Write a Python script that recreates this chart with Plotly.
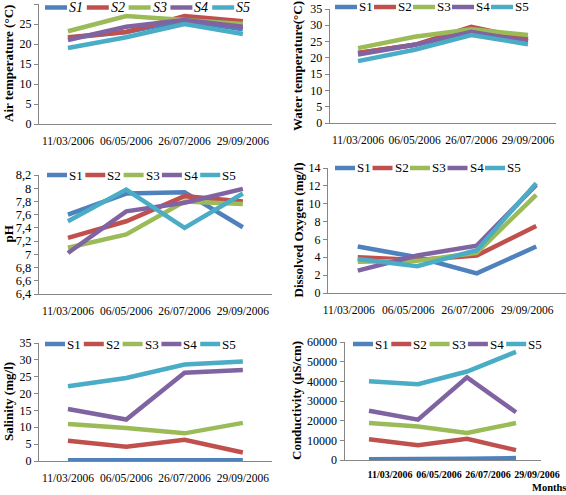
import plotly.graph_objects as go

W, H = 566, 495

dates = ["11/03/2006", "06/05/2006", "26/07/2006", "29/09/2006"]
stations = ["S1", "S2", "S3", "S4", "S5"]
colors = ["#4F81BD", "#C0504D", "#9BBB59", "#8064A2", "#4BACC6"]

# values per station (S1..S5), each over the four sampling dates
air_temperature = [
    [21.5, 23.0, 25.8, 23.7],
    [21.7, 23.0, 27.0, 25.7],
    [23.2, 27.0, 26.0, 25.0],
    [21.0, 24.3, 26.0, 24.3],
    [19.0, 21.7, 25.0, 22.5],
]
water_temperature = [
    [21.5, 24.0, 28.0, 25.0],
    [21.5, 24.0, 29.5, 25.8],
    [23.0, 26.5, 28.8, 27.0],
    [21.0, 24.0, 28.0, 25.0],
    [19.0, 22.5, 27.0, 24.2],
]
ph = [
    [7.60, 7.92, 7.94, 7.41],
    [7.25, 7.50, 7.88, 7.80],
    [7.10, 7.30, 7.80, 7.76],
    [7.02, 7.65, 7.78, 7.99],
    [7.50, 7.98, 7.40, 7.92],
]
dissolved_oxygen = [
    [5.2, 4.0, 2.2, 5.2],
    [4.0, 3.7, 4.2, 7.5],
    [3.5, 3.6, 4.5, 11.0],
    [2.5, 4.2, 5.3, 12.1],
    [3.8, 3.0, 4.8, 12.3],
]
salinity = [
    [0.2, 0.1, 0.2, 0.2],
    [6.0, 4.2, 6.3, 2.5],
    [11.0, 9.8, 8.2, 11.3],
    [15.4, 12.3, 26.2, 27.0],
    [22.2, 24.6, 28.6, 29.5],
]
conductivity = [
    [400, 400, 600, 1000],
    [10500, 7500, 10800, 5000],
    [18800, 17000, 13700, 18800],
    [25000, 20500, 42000, 24300],
    [40000, 38500, 45000, 55000],
]

FONT = "Liberation Serif"
AXIS_GREY = "#868686"

def fx(px):
    return px / W

def fy(py):
    return 1 - py / H

panels = [
    dict(data=air_temperature, title="Air temperature (°C)", yr=[0, 30], dt=5, fmt="",
         xd=(38.8, 272), yd=(4, 124), title_x=8, leg=(45, 41.8, 22, 7.5, 14, True),
         xbold=False, shift=0, yfs=12),
    dict(data=water_temperature, title="Water temperature(°C)", yr=[0, 35], dt=5, fmt="",
         xd=(329.7, 556.3), yd=(9, 123), title_x=298, leg=(335, 39, 22, 7, 13, False),
         xbold=False, shift=0, yfs=12),
    dict(data=ph, title="pH", yr=[6.4, 8.2], dt=0.2, fmt="",
         xd=(38.8, 272), yd=(175, 294), title_x=8, leg=(47, 38.3, 20, 175, 13, False),
         xbold=False, shift=0, yfs=12.5),
    dict(data=dissolved_oxygen, title="Dissolved Oxygen (mg/l)", yr=[0, 14], dt=2, fmt="",
         xd=(328, 566), yd=(168, 293), title_x=298, leg=(335, 37.5, 20, 168, 13, False),
         xbold=False, shift=-9, yfs=12),
    dict(data=salinity, title="Salinity (mg/l)", yr=[0, 35], dt=5, fmt="",
         xd=(38.8, 272), yd=(343, 461), title_x=8, leg=(45, 38.8, 20, 344, 13, False),
         xbold=False, shift=0, yfs=12),
    dict(data=conductivity, title="Conductivity (µS/cm)", yr=[0, 60000], dt=10000, fmt="d",
         xd=(344.5, 540.5), yd=(342, 460), title_x=296, leg=(353, 38.3, 20, 344, 13, False),
         xbold=True, shift=21, yfs=12),
]

fig = go.Figure()
shapes = []
annotations = []

for i, p in enumerate(panels, start=1):
    xa = "x" if i == 1 else f"x{i}"
    ya = "y" if i == 1 else f"y{i}"
    for s, name in enumerate(stations):
        fig.add_trace(go.Scatter(
            x=dates, y=p["data"][s], mode="lines", name=name,
            line=dict(color=colors[s], width=4.5),
            xaxis=xa, yaxis=ya, showlegend=False,
        ))
    xkey = "xaxis" if i == 1 else f"xaxis{i}"
    ykey = "yaxis" if i == 1 else f"yaxis{i}"
    x0, x1 = p["xd"]
    ytop, ybot = p["yd"]
    fig.layout[xkey] = dict(
        domain=[fx(x0), min(fx(x1), 1.0)], anchor=ya, type="category",
        range=[-0.5, 3.5], showline=True, linecolor=AXIS_GREY, linewidth=1,
        showgrid=False, zeroline=False, ticks="", ticklabelshift=p["shift"],
        tickangle=0, automargin=False, ticklabelstandoff=5 if p["xbold"] else 6,
        tickfont=dict(family=FONT, size=10 if p["xbold"] else 11.5, color="black",
                      weight="bold" if p["xbold"] else "normal"),
    )
    fig.layout[ykey] = dict(
        domain=[fy(ybot), fy(ytop)], anchor=xa, range=p["yr"], dtick=p["dt"],
        tick0=p["yr"][0], tickformat=p["fmt"], automargin=False,
        showline=True, linecolor=AXIS_GREY, linewidth=1, showgrid=False,
        zeroline=False, ticks="outside", ticklen=4, tickcolor=AXIS_GREY,
        tickfont=dict(family=FONT, size=p["yfs"], color="black"),
    )
    # axis title
    annotations.append(dict(
        text=p["title"], x=fx(p["title_x"]), y=(fy(ybot) + fy(ytop)) / 2,
        xref="paper", yref="paper", textangle=-90, showarrow=False,
        xanchor="center", yanchor="middle",
        font=dict(family=FONT, size=13, color="black", weight="bold"),
    ))
    # legend keys
    lx, step, llen, lyc, lfs, ital = p["leg"]
    for s, name in enumerate(stations):
        sx = lx + s * step
        shapes.append(dict(
            type="line", xref="paper", yref="paper",
            x0=fx(sx), x1=fx(sx + llen), y0=fy(lyc), y1=fy(lyc),
            line=dict(color=colors[s], width=4.5),
        ))
        annotations.append(dict(
            text=name, x=fx(sx + llen), y=fy(lyc), xref="paper", yref="paper",
            showarrow=False, xanchor="left", yanchor="middle",
            font=dict(family=FONT, size=lfs, color="black",
                      style="italic" if ital else "normal"),
        ))

annotations.append(dict(
    text="Months", x=fx(549), y=fy(487.5), xref="paper", yref="paper",
    showarrow=False, xanchor="center", yanchor="middle",
    font=dict(family=FONT, size=10.5, color="black", weight="bold"),
))

fig.update_layout(
    width=W, height=H, margin=dict(l=0, r=0, t=0, b=0, autoexpand=False),
    paper_bgcolor="white", plot_bgcolor="white",
    separators=",.", showlegend=False,
    shapes=shapes, annotations=annotations,
    font=dict(family=FONT, color="black"),
)

fig.write_html(
    "out.html",
    config={"displayModeBar": False},
    post_script="document.body.style.margin='0px';document.body.style.overflow='hidden';",
)
